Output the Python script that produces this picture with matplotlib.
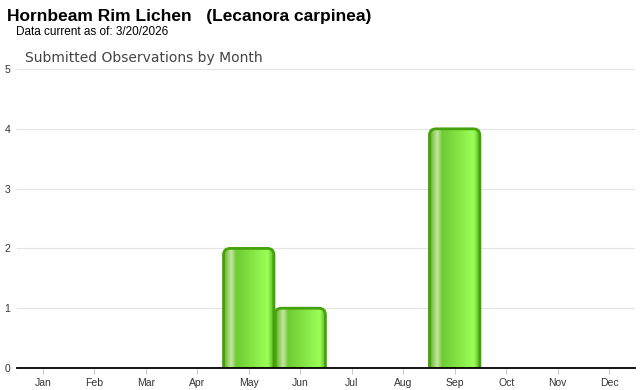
import numpy as np
import matplotlib.pyplot as plt
from matplotlib.patches import FancyBboxPatch
from matplotlib.colors import LinearSegmentedColormap

# data
months = ['Jan', 'Feb', 'Mar', 'Apr', 'May', 'Jun', 'Jul', 'Aug', 'Sep', 'Oct', 'Nov', 'Dec']
counts = [0, 0, 0, 0, 2, 1, 0, 0, 4, 0, 0, 0]
y_ticks = [0, 1, 2, 3, 4, 5]

plt.rcParams['font.family'] = ['Liberation Sans', 'DejaVu Sans']

fig = plt.figure(figsize=(6.4, 3.9), dpi=100)
ax = fig.add_axes([0.0266, 0.0564, 0.9654, 0.7666])

# horizontal gradient for the bars
bar_cmap = LinearSegmentedColormap.from_list('bar', [
    (0.00, '#4c9f18'),
    (0.06, '#7cc646'),
    (0.16, '#c6e6a4'),
    (0.26, '#6ecb33'),
    (0.60, '#86e846'),
    (0.88, '#9bff58'),
    (1.00, '#58b31e'),
])
grad = np.linspace(0, 1, 256).reshape(1, -1)

width = 0.98
for i, c in enumerate(counts):
    if c <= 0:
        continue
    x0 = i - width / 2
    box = FancyBboxPatch((x0, -0.3), width, c + 0.3,
                         boxstyle='round,pad=0,rounding_size=0.13',
                         mutation_aspect=0.86,
                         facecolor='none', edgecolor='#46a20a', lw=2.0, zorder=3)
    ax.add_patch(box)
    im = ax.imshow(grad, cmap=bar_cmap, aspect='auto',
                   extent=(x0, x0 + width, -0.3, c), zorder=2)
    im.set_clip_path(box)

ax.set_xlim(-0.5, len(months) - 0.5)
ax.set_ylim(0, 5)
ax.set_xticks(range(len(months)))
ax.set_xticklabels(months, fontsize=7.5, color='#333333')
ax.set_yticks(y_ticks)
ax.set_yticklabels([str(v) for v in y_ticks], fontsize=7.5, color='#333333')
ax.tick_params(axis='x', length=4, color='#cccccc', pad=3)
ax.tick_params(axis='y', length=0, pad=5)
ax.grid(axis='y', color='#e3e3e3', lw=0.8, zorder=0)
ax.set_axisbelow(True)
for s in ['top', 'right', 'left']:
    ax.spines[s].set_visible(False)
ax.spines['bottom'].set_color('black')
ax.spines['bottom'].set_linewidth(1.3)
ax.spines['bottom'].set_zorder(5)

fig.text(7 / 640, 1 - 16 / 390, 'Hornbeam Rim Lichen   (Lecanora carpinea)',
         fontsize=12.5, fontweight='bold', va='center', ha='left')
fig.text(16 / 640, 1 - 32 / 390, 'Data current as of: 3/20/2026',
         fontsize=8.5, va='center', ha='left')
fig.text(25 / 640, 1 - 58 / 390, 'Submitted Observations by Month',
         fontsize=10, color='#444444', va='center', ha='left',
         family=['DejaVu Sans'])

fig.savefig('out.png', dpi=100)
